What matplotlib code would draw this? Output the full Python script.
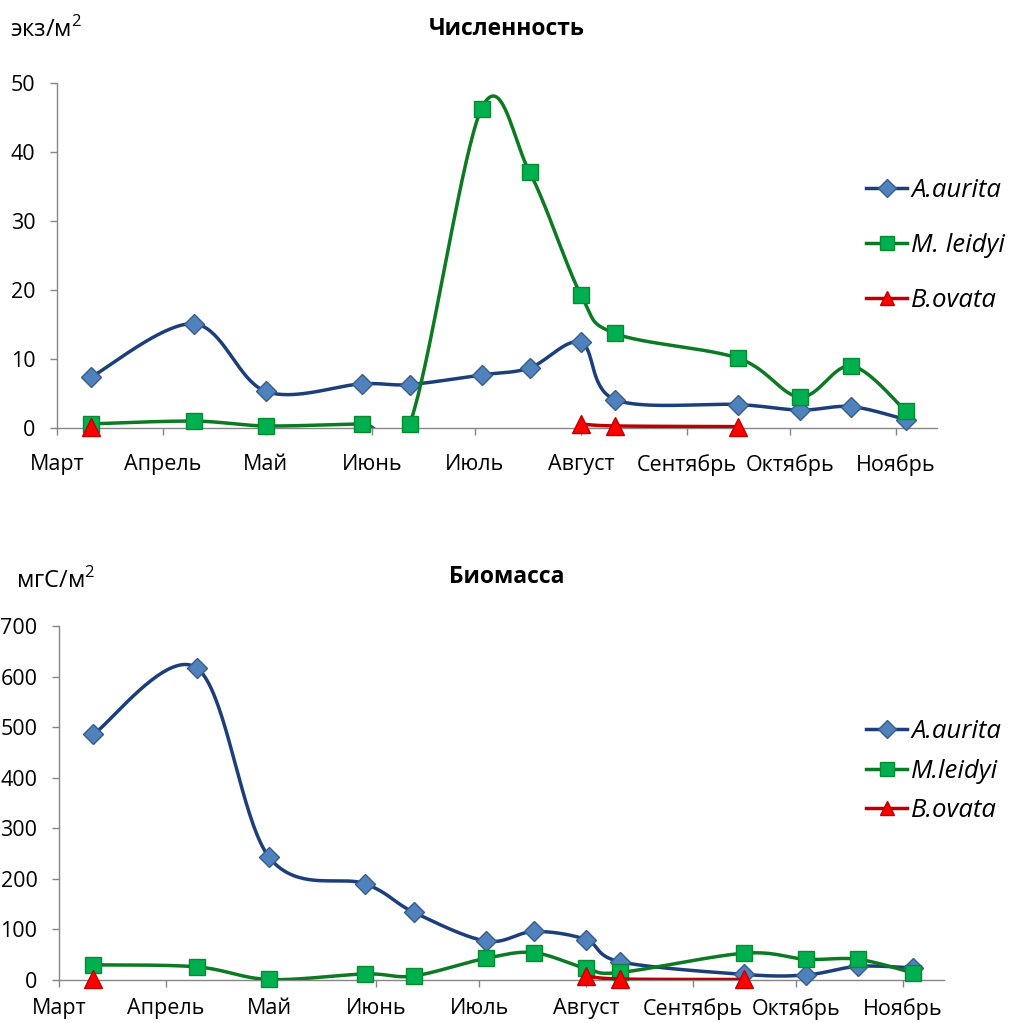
import datetime as dt
import numpy as np
import matplotlib
matplotlib.use("Agg")
import matplotlib.pyplot as plt
from matplotlib.lines import Line2D

plt.rcParams['font.family'] = ['Open Sans', 'DejaVu Sans']
plt.rcParams['mathtext.fontset'] = 'custom'
plt.rcParams['mathtext.rm'] = 'Open Sans'

nan = np.nan

# --- data ---
year = 2013
sample_days = ['03-11', '04-10', '05-01', '05-29', '06-12', '07-03', '07-17',
               '08-01', '08-11', '09-16', '10-04', '10-19', '11-04']
month_names = ['Март', 'Апрель', 'Май', 'Июнь', 'Июль', 'Август',
               'Сентябрь', 'Октябрь', 'Ноябрь']
species_num = ['A.aurita', 'M. leidyi', 'B.ovata']
species_bio = ['A.aurita', 'M.leidyi', 'B.ovata']

num_aurita = [7.4, 15.1, 5.3, 6.4, 6.3, 7.7, 8.7, 12.4, 4.1, 3.4, 2.6, 3.1, 1.2]
num_leidyi = [0.6, 1.0, 0.3, 0.6, 0.6, 46.3, 37.1, 19.3, 13.7, 10.1, 4.5, 9.0, 2.4]
num_ovata = [0.2, nan, nan, nan, nan, nan, nan, 0.6, 0.3, 0.2, nan, nan, nan]

bio_aurita = [486, 617, 243, 190, 134, 77, 96, 80, 36, 11, 10, 27, 24]
bio_leidyi = [30, 26, 1, 12, 8, 43, 54, 23, 15, 53, 41, 41, 14]
bio_ovata = [1, nan, nan, nan, nan, nan, nan, 8, 2, 1, nan, nan, nan]

# --- styles ---
styles = [
    dict(color='#1c3f7c', marker='D', mfc='#4f81bd', mec='#385d8a', ms=10.5),
    dict(color='#0b7a22', marker='s', mfc='#00b050', mec='#0a8a30', ms=11.5),
    dict(color='#c00000', marker='^', mfc='#ff0000', mec='#c00000', ms=12.5),
]

start = dt.date(year, 3, 1)
end = start + dt.timedelta(days=257)
x_days = np.array([(dt.date(year, int(d[:2]), int(d[3:])) - start).days for d in sample_days], float)
tick_days = [(dt.date(year, m, 1) - start).days for m in range(3, 12)]


def smooth(xs, ys, sx, sy, n=40):
    # Catmull-Rom in screen-like units (Excel smoothed line)
    px = np.asarray(xs) * sx
    py = np.asarray(ys) * sy
    if len(px) < 3:
        return np.asarray(xs), np.asarray(ys)
    P = np.column_stack([px, py])
    P = np.vstack([P[0], P, P[-1]])
    out = []
    for i in range(1, len(P) - 2):
        p0, p1, p2, p3 = P[i - 1], P[i], P[i + 1], P[i + 2]
        c1 = p1 + (p2 - p0) / 6
        c2 = p2 - (p3 - p1) / 6
        t = np.linspace(0, 1, n)[:, None]
        seg = ((1 - t) ** 3) * p1 + 3 * ((1 - t) ** 2) * t * c1 + 3 * (1 - t) * t ** 2 * c2 + t ** 3 * p2
        out.append(seg if i == 1 else seg[1:])
    out = np.vstack(out)
    return out[:, 0] / sx, out[:, 1] / sy


def draw(ax, series, ymax, ystep, names, legend_box, spacing, xpad):
    ax.set_xlim(0, (end - start).days)
    ax.set_ylim(0, ymax)
    w_px = ax.get_position().width * fig.get_figwidth() * fig.dpi
    h_px = ax.get_position().height * fig.get_figheight() * fig.dpi
    sx = w_px / (end - start).days
    sy = h_px / ymax
    for k, (vals, st) in enumerate(zip(series, styles)):
        v = np.asarray(vals, float)
        ok = ~np.isnan(v)
        # split into runs of consecutive values
        idx = np.where(ok)[0]
        runs = np.split(idx, np.where(np.diff(idx) != 1)[0] + 1)
        for r in runs:
            if len(r) >= 2:
                cx, cy = smooth(x_days[r], v[r], sx, sy)
                ax.plot(cx, cy, color=st['color'], lw=2.5, zorder=3 + k * 0.1,
                        solid_capstyle='round')
        ax.plot(x_days[ok], v[ok], ls='none', marker=st['marker'], ms=st['ms'],
                mfc=st['mfc'], mec=st['mec'], mew=1.0, zorder=3.05 + k * 0.1,
                clip_on=False)

    ax.set_yticks(np.arange(0, ymax + 1, ystep))
    ax.set_xticks(tick_days)
    ax.set_xticklabels(month_names)
    for s in ['top', 'right']:
        ax.spines[s].set_visible(False)
    for s in ['left', 'bottom']:
        ax.spines[s].set_color('#868686')
        ax.spines[s].set_linewidth(1.0)
    ax.tick_params(axis='both', colors='#868686', labelcolor='black',
                   labelsize=15.5, length=5, width=1.0)
    ax.tick_params(axis='y', pad=10.5)
    ax.tick_params(axis='x', pad=xpad)

    handles = [Line2D([], [], color=st['color'], lw=2.5, marker=st['marker'],
                      ms=st['ms'] * 0.85, mfc=st['mfc'], mec=st['mec'])
               for st in styles]
    fig.legend(handles, names, loc='upper left', bbox_to_anchor=legend_box,
               frameon=False, prop=dict(style='italic', size=18.5),
               handlelength=1.6, handletextpad=0.15, labelspacing=spacing,
               borderaxespad=0, borderpad=0, numpoints=1)


fig = plt.figure(figsize=(10.13, 10.23), dpi=100)
W, H = 1013, 1023

ax1 = fig.add_axes([57 / W, 1 - 428 / H, 880 / W, 345 / H])
ax2 = fig.add_axes([59 / W, 1 - 980 / H, 885 / W, 354 / H])

draw(ax1, [num_aurita, num_leidyi, num_ovata], 50, 10, species_num,
     (866 / W, 1 - 178 / H), 1.17, 14)
draw(ax2, [bio_aurita, bio_leidyi, bio_ovata], 700, 100, species_bio,
     (866 / W, 1 - 719 / H), 0.57, 8)

fig.text(0.5, 1 - 29 / H, 'Численность', ha='center', va='center',
         fontsize=16.5, fontweight='bold')
fig.text(0.5, 1 - 577 / H, 'Биомасса', ha='center', va='center',
         fontsize=16.5, fontweight='bold')
fig.text(10 / W, 1 - 30 / H, r'экз/м$^{2}$', ha='left', va='center', fontsize=17)
fig.text(16 / W, 1 - 581 / H, r'мгС/м$^{2}$', ha='left', va='center', fontsize=17)

fig.savefig('out.png', dpi=100)
